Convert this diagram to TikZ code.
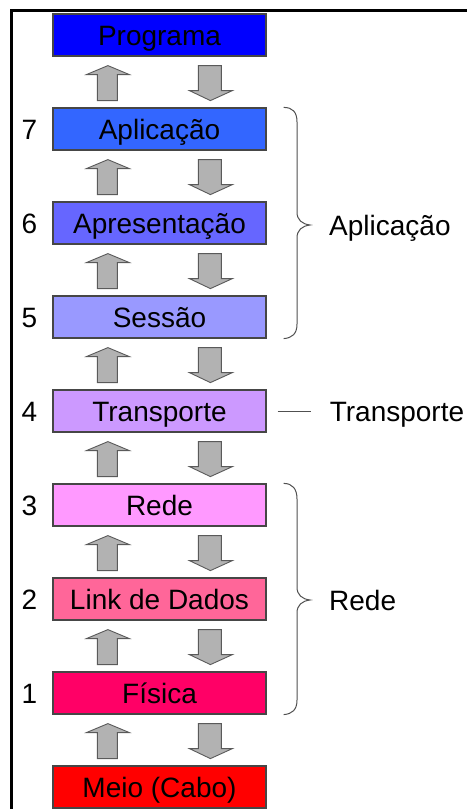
\documentclass[tikz,border=0pt]{standalone}
\usepackage{fontspec}
\setmainfont{Liberation Sans}
\usetikzlibrary{calc}
\definecolor{cprog}{RGB}{0,0,255}
\definecolor{capl}{RGB}{51,102,255}
\definecolor{capr}{RGB}{102,102,255}
\definecolor{cses}{RGB}{153,153,255}
\definecolor{ctra}{RGB}{204,153,255}
\definecolor{cred}{RGB}{255,153,255}
\definecolor{clnk}{RGB}{255,102,153}
\definecolor{cfis}{RGB}{255,0,102}
\definecolor{cmei}{RGB}{255,0,0}
\definecolor{boxline}{RGB}{70,70,70}
\definecolor{arrowfill}{RGB}{178,178,178}
\definecolor{arrowline}{RGB}{90,90,90}
\definecolor{braceline}{RGB}{80,80,80}
\begin{document}
\begin{tikzpicture}[x=1pt,y=-1pt,
  layerbox/.style={draw=boxline, line width=1.2pt, minimum width=213pt, minimum height=42pt, inner sep=0pt, text height=20pt, text depth=0pt, font=\fontsize{28}{30}\selectfont, text=black},
  numlabel/.style={font=\fontsize{28}{30}\selectfont, inner sep=0pt, text height=20pt, text depth=0pt},
  sidelabel/.style={font=\fontsize{28}{30}\selectfont, inner sep=0pt, text height=20pt, text depth=0pt, anchor=west},
  blockarrow/.style={fill=arrowfill, draw=arrowline, line width=0.9pt, line join=miter},
  bracepath/.style={draw=braceline, line width=1pt},
  updown/.pic={
    \draw[blockarrow] (45,44) -- (45,18) -- (34,18) -- (55.5,9) -- (77,18) -- (65,18) -- (65,44) -- cycle;
    \draw[blockarrow] (146,9) -- (169,9) -- (169,34) -- (180,34) -- (158,44) -- (137,34) -- (146,34) -- cycle;
  }]
\useasboundingbox (0,0) rectangle (467,809);
\fill[white] (0,0) rectangle (467,809);
% frame
\draw[line width=3pt] (11,809) -- (11,10) -- (467,10);
% layers
\node[layerbox, fill=cprog] (p0) at (159.5,35) {Programa};
\node[layerbox, fill=capl]  (p7) at (159.5,129) {Aplicação};
\node[layerbox, fill=capr]  (p6) at (159.5,223) {Apresentação};
\node[layerbox, fill=cses]  (p5) at (159.5,317) {Sessão};
\node[layerbox, fill=ctra]  (p4) at (159.5,411) {Transporte};
\node[layerbox, fill=cred]  (p3) at (159.5,505) {Rede};
\node[layerbox, fill=clnk]  (p2) at (159.5,599) {Link de Dados};
\node[layerbox, fill=cfis]  (p1) at (159.5,693) {Física};
\node[layerbox, fill=cmei]  (pm) at (159.5,787) {Meio (Cabo)};
% numbers
\foreach \n in {7,6,5,4,3,2,1} {
  \node[numlabel] (n\n) at ($(p\n.west)+(-23,0)$) {\n};
}
% arrows
\foreach \a in {p0,p7,p6,p5,p4,p3,p2,p1} {
  \pic at (\a.south west) {updown};
}
% braces
\draw[bracepath] ($(p7.north east)+(17,0)$) coordinate (ba1)
  .. controls +(9,0) and (297,112) .. (297,122) -- (297,212)
  .. controls (297,220) and (302,224) .. (310,225) coordinate (ba2)
  .. controls (302,226) and (297,230) .. (297,238) -- (297,324)
  .. controls (297,334) and (292,338) .. ($(p5.south east)+(17,0)$);
\node[sidelabel] (lapp) at ($(ba2)+(19,0)$) {Aplicação};

\coordinate (tl1) at ($(p4.east)+(11,0)$);
\coordinate (tl2) at ($(p4.east)+(44,0)$);
\draw[braceline, line width=1pt] (tl1) -- (tl2);
\node[sidelabel] (ltra) at ($(tl2)+(19,0)$) {Transporte};

\draw[bracepath] ($(p3.north east)+(17,0)$)
  .. controls +(9,0) and (297,489) .. (297,499) -- (297,587)
  .. controls (297,595) and (302,599) .. (310,600) coordinate (br2)
  .. controls (302,601) and (297,605) .. (297,613) -- (297,700)
  .. controls (297,710) and (292,714) .. ($(p1.south east)+(17,0)$);
\node[sidelabel] (lred) at ($(br2)+(19,0)$) {Rede};
\end{tikzpicture}
\end{document}
